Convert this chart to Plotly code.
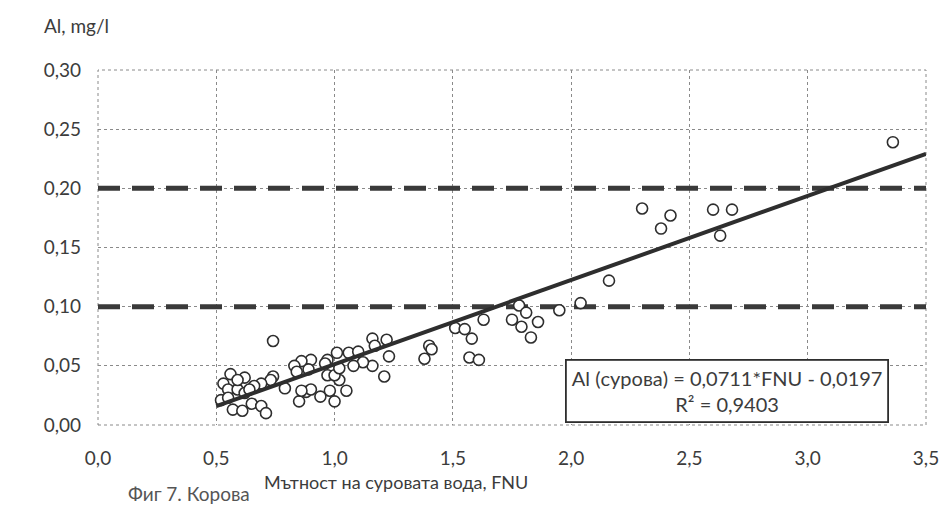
import plotly.graph_objects as go

# Data
fnu = [3.36, 2.30, 2.42, 2.38, 2.60, 2.68, 2.63, 2.16, 2.04, 1.95,
       1.78, 1.81, 1.75, 1.79, 1.86, 1.83, 1.63, 1.51, 1.55, 1.58,
       1.57, 1.61, 1.40, 1.41, 1.38, 1.16, 1.22, 1.17, 1.23, 1.16,
       1.21, 1.01, 1.06, 1.10, 1.12, 1.08, 1.02, 1.05, 0.98, 0.97,
       0.96, 0.90, 0.86, 0.83, 0.89, 0.84, 0.85, 0.88, 0.90, 0.79,
       0.74, 0.73, 0.69, 0.66, 0.62, 0.56, 0.53, 0.55, 0.59, 0.59,
       0.62, 0.65, 0.52, 0.55, 0.69, 0.97, 1.00, 1.02, 0.74, 0.86,
       0.64, 0.57, 0.61, 0.71, 1.00, 0.94]
al = [0.239, 0.183, 0.177, 0.166, 0.182, 0.182, 0.160, 0.122, 0.103, 0.097,
      0.101, 0.095, 0.089, 0.083, 0.087, 0.074, 0.089, 0.082, 0.081, 0.073,
      0.057, 0.055, 0.067, 0.064, 0.056, 0.073, 0.072, 0.067, 0.058, 0.050,
      0.041, 0.061, 0.061, 0.062, 0.053, 0.050, 0.038, 0.029, 0.029, 0.055,
      0.052, 0.055, 0.054, 0.050, 0.047, 0.045, 0.020, 0.028, 0.030, 0.031,
      0.041, 0.038, 0.035, 0.033, 0.040, 0.043, 0.035, 0.030, 0.030, 0.038,
      0.027, 0.018, 0.021, 0.023, 0.016, 0.042, 0.042, 0.048, 0.071, 0.029,
      0.030, 0.013, 0.012, 0.010, 0.020, 0.024]

slope = 0.0711
intercept = -0.0197
trend_x = [0.5, 3.5]
trend_y = [slope * x + intercept for x in trend_x]

limit_x = [0.0, 3.5]
limits = [0.20, 0.10]

x_ticks = [0.0, 0.5, 1.0, 1.5, 2.0, 2.5, 3.0, 3.5]
y_ticks = [0.00, 0.05, 0.10, 0.15, 0.20, 0.25, 0.30]

FONT = "Lato"
TXT = "#3c3c3c"

fig = go.Figure()

for lv in limits:
    fig.add_trace(go.Scatter(
        x=limit_x, y=[lv, lv], mode="lines",
        line=dict(color="#3a3a3a", width=5, dash="22px,12px"),
        hoverinfo="skip", showlegend=False))

fig.add_trace(go.Scatter(
    x=fnu, y=al, mode="markers",
    marker=dict(symbol="circle", size=11, color="white",
                line=dict(color="#2e2e2e", width=1.6)),
    showlegend=False))

fig.add_trace(go.Scatter(
    x=trend_x, y=trend_y, mode="lines",
    line=dict(color="#2e2e2e", width=4),
    hoverinfo="skip", showlegend=False))

fig.update_layout(
    width=948, height=509,
    margin=dict(l=90, r=30, t=62, b=92),
    paper_bgcolor="white", plot_bgcolor="white",
    separators=", ",
    font=dict(family=FONT, size=19, color=TXT),
    showlegend=False,
    xaxis=dict(range=[0, 3.5], tickvals=x_ticks, tickformat=".1f",
               showgrid=True, gridcolor="#8a8a8a", griddash="dot", gridwidth=1,
               zeroline=False, showline=False, ticks="",
               ticklabelstandoff=20, automargin=False,
               tickfont=dict(family=FONT, size=19, color=TXT)),
    yaxis=dict(range=[0, 0.30], tickvals=y_ticks, tickformat=".2f",
               showgrid=True, gridcolor="#8a8a8a", griddash="dot", gridwidth=1,
               zeroline=False, showline=False, ticks="",
               ticklabelstandoff=16, automargin=False,
               tickfont=dict(family=FONT, size=19, color=TXT)),
    shapes=[dict(type="rect", xref="paper", yref="paper", x0=0, y0=0, x1=1, y1=1,
                 line=dict(color="#8a8a8a", width=1, dash="dot"), layer="below")],
    annotations=[
        dict(text="Al, mg/l", xref="paper", yref="paper", x=-0.068, y=1.125,
             xanchor="left", yanchor="middle", showarrow=False,
             font=dict(family=FONT, size=19, color=TXT)),
        dict(text="Мътност на суровата вода, FNU", xref="paper", yref="paper",
             x=0.36, y=-0.16, xanchor="center", yanchor="middle", showarrow=False,
             font=dict(family=FONT, size=18, color=TXT)),
        dict(text="Al (сурова) = 0,0711*FNU - 0,0197<br>R² = 0,9403",
             xref="paper", yref="paper", x=0.76, y=0.095,
             xanchor="center", yanchor="middle", showarrow=False, align="center",
             bgcolor="white", bordercolor="#2e2e2e", borderwidth=1.8, borderpad=5,
             font=dict(family=FONT, size=20, color=TXT)),
        dict(text="Фиг 7. Корова", xref="paper", yref="paper", x=0.034, y=-0.232,
             xanchor="left", yanchor="bottom", showarrow=False,
             font=dict(family=FONT, size=19, color="#555555")),
    ],
)

fig.write_html("out.html")
